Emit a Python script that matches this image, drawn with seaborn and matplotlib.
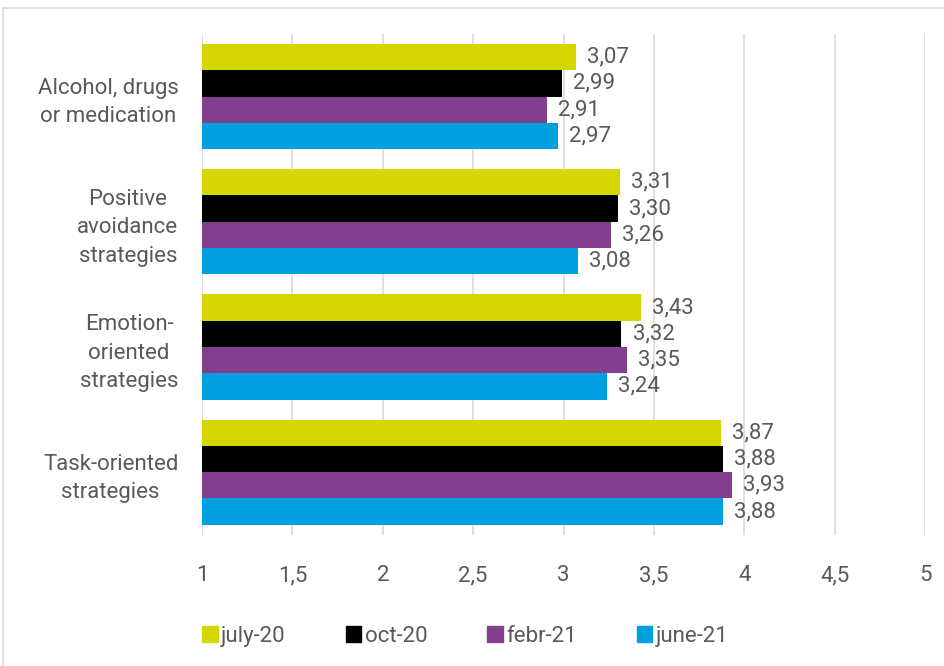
import pandas as pd
import matplotlib.pyplot as plt
import matplotlib.patches as mpatches
import seaborn as sns

# ── DATA ─────────────────────────────────────────────────────
categories = ['Alcohol, drugs\nor medication', 'Positive\navoidance\nstrategies',
              'Emotion-\noriented\nstrategies', 'Task-oriented\nstrategies']
periods = ['july-20', 'oct-20', 'febr-21', 'june-21']
july_20 = [3.07, 3.31, 3.43, 3.87]
oct_20 = [2.99, 3.30, 3.32, 3.88]
febr_21 = [2.91, 3.26, 3.35, 3.93]
june_21 = [2.97, 3.08, 3.24, 3.88]
x_ticks = [1, 1.5, 2, 2.5, 3, 3.5, 4, 4.5, 5]
colors = ['#D4D800', '#000000', '#833F8F', '#009FE0']

rows = []
for period, vals in zip(periods, [july_20, oct_20, febr_21, june_21]):
    for cat, v in zip(categories, vals):
        rows.append({'category': cat, 'period': period, 'value': v})
df = pd.DataFrame(rows)

# ── PLOT ─────────────────────────────────────────────────────
sns.set_theme(style='white')
plt.rcParams['font.family'] = ['Roboto', 'DejaVu Sans']
grey = '#595959'
fs = 16

fig = plt.figure(figsize=(9.44, 6.66), dpi=100)
ax = fig.add_axes([0.214, 0.197, 0.766, 0.752])

sns.barplot(data=df, y='category', x='value', hue='period', order=categories,
            hue_order=periods, palette=colors, orient='h', width=0.84,
            saturation=1, ax=ax, legend=False, edgecolor='none')

for cont in ax.containers:
    texts = ax.bar_label(cont, labels=[f"{b.get_width():.2f}".replace('.', ',') for b in cont],
                         padding=8, fontsize=fs, color=grey)
    for t in texts:
        t.set_y(t.get_position()[1] + 0.02)

ax.set_xlim(1, 5)
ax.set_ylim(3.5, -0.5)
ax.set_xticks(x_ticks)
ax.set_xticklabels([f"{t:g}".replace('.', ',') for t in x_ticks])
ax.set_xlabel(''); ax.set_ylabel('')
ax.tick_params(axis='x', length=0, pad=22, labelsize=fs, labelcolor=grey)
ax.tick_params(axis='y', length=0, pad=17, labelsize=fs, labelcolor=grey)
for lbl in ax.get_yticklabels():
    lbl.set_horizontalalignment('right')
    lbl.set_multialignment('center')
    lbl.set_linespacing(1.45)
ax.xaxis.grid(True, color='#D9D9D9', linewidth=1.2)
ax.set_axisbelow(True)
for s in ax.spines.values():
    s.set_visible(False)

handles = [mpatches.Patch(color=c, label=p) for c, p in zip(colors, periods)]
leg = fig.legend(handles=handles, loc='center', bbox_to_anchor=(0.493, 0.045), ncol=4,
                 frameon=False, fontsize=fs, handlelength=0.7, handleheight=0.7,
                 handletextpad=0.15, columnspacing=2.7)
for t in leg.get_texts():
    t.set_color(grey)

# chart border
fig.patches.append(mpatches.Rectangle((3/944, -0.01), 1.0, 1 - 8/666 + 0.01,
                                      transform=fig.transFigure, fill=False,
                                      edgecolor='#D9D9D9', linewidth=1.2))

plt.savefig('out.png', dpi=100)
